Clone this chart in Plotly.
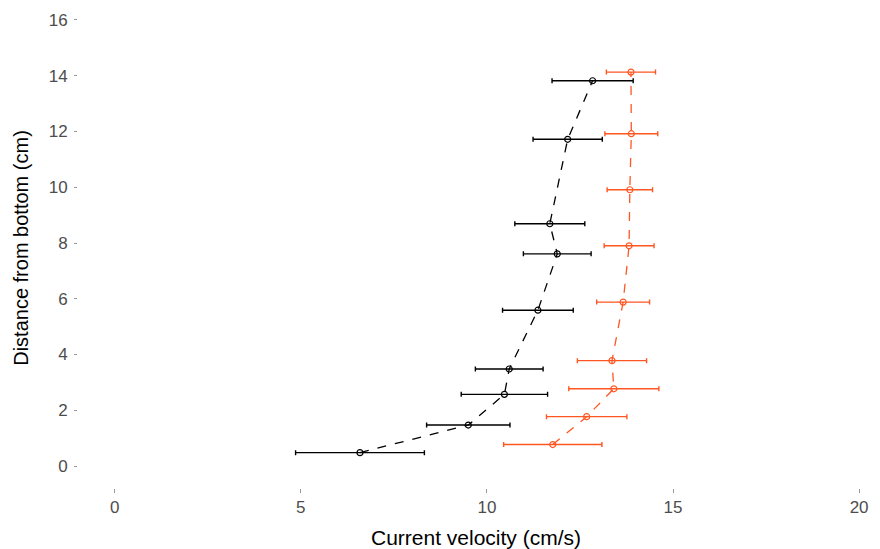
import plotly.graph_objects as go

# Black series
black_velocity = [6.59, 9.50, 10.47, 10.60, 11.37, 11.89, 11.69, 12.17, 12.84]
black_height = [0.48, 1.47, 2.57, 3.48, 5.59, 7.61, 8.69, 11.72, 13.82]
black_err = [1.73, 1.12, 1.16, 0.91, 0.95, 0.91, 0.94, 0.93, 1.09]

# Red series
red_velocity = [11.77, 12.68, 13.41, 13.36, 13.66, 13.82, 13.84, 13.88, 13.87]
red_height = [0.77, 1.77, 2.77, 3.78, 5.88, 7.90, 9.91, 11.92, 14.13]
red_err = [1.32, 1.08, 1.21, 0.93, 0.71, 0.67, 0.61, 0.71, 0.66]

x_ticks = [0, 5, 10, 15, 20]
y_ticks = [0, 2, 4, 6, 8, 10, 12, 14, 16]

BLACK = "#000000"
RED = "#FF5722"

fig = go.Figure()

for xs, ys, es, col in [(black_velocity, black_height, black_err, BLACK),
                        (red_velocity, red_height, red_err, RED)]:
    fig.add_trace(go.Scatter(
        x=xs, y=ys, mode="lines+markers",
        line=dict(color=col, width=1.3, dash="dash"),
        marker=dict(symbol="circle-open", size=6, color=col, line=dict(width=1.2, color=col)),
        error_x=dict(type="data", array=es, visible=True, color=col, thickness=1.4, width=2.5),
        showlegend=False,
    ))

font_family = "Liberation Sans, Arial, sans-serif"

fig.update_layout(
    width=872, height=541,
    margin=dict(l=70, r=6, t=0, b=61),
    paper_bgcolor="white", plot_bgcolor="white",
    font=dict(family=font_family, size=17, color="#4d4d4d"),
    showlegend=False,
)
fig.update_xaxes(
    range=[-0.986, 20.40], tickvals=x_ticks, ticktext=[str(v) for v in x_ticks],
    showgrid=False, zeroline=False, showline=False, automargin=False,
    ticks="outside", ticklen=4, tickwidth=1, tickcolor="#999999",
    tickfont=dict(size=17, color="#4d4d4d"),
    title=dict(text="Current velocity (cm/s)", font=dict(size=21, color="#000000"), standoff=13),
)
fig.update_yaxes(
    range=[-0.789, 16.43], tickvals=y_ticks, ticktext=[str(v) for v in y_ticks],
    showgrid=False, zeroline=False, showline=False, automargin=False,
    ticks="outside", ticklen=3, tickwidth=1, tickcolor="#999999",
    ticklabelstandoff=3,
    tickfont=dict(size=17, color="#4d4d4d"),
    title=dict(text="Distance from bottom (cm)", font=dict(size=20, color="#000000"), standoff=14),
)

fig.write_html("out.html")
